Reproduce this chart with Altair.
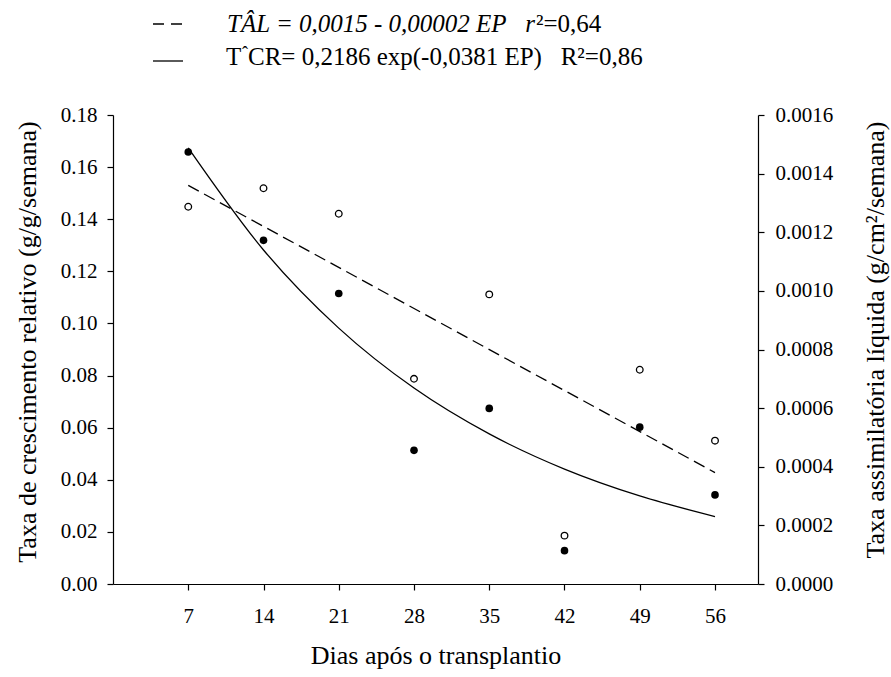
import altair as alt
import pandas as pd

# ---- data ----
dias = [7, 14, 21, 28, 35, 42, 49, 56]
tcr_obs = [0.1658, 0.1319, 0.1115, 0.0513, 0.0674, 0.0128, 0.0602, 0.0342]      # filled, left axis
tal_obs = [0.001287, 0.001350, 0.001263, 0.000700, 0.000988, 0.000165, 0.000731, 0.000489]  # open, right axis
tcr_fit = [0.1674, 0.1282, 0.0982, 0.0752, 0.0576, 0.0441, 0.0338, 0.0259]      # solid curve
tal_fit_dias = [7, 56]
tal_fit = [0.00136, 0.00038]                                                      # dashed line

left_ticks = [0.0, 0.02, 0.04, 0.06, 0.08, 0.10, 0.12, 0.14, 0.16, 0.18]
right_ticks = [0.0, 0.0002, 0.0004, 0.0006, 0.0008, 0.0010, 0.0012, 0.0014, 0.0016]

df_tcr = pd.DataFrame({"dia": dias, "v": tcr_obs})
df_tcr_fit = pd.DataFrame({"dia": dias, "v": tcr_fit})
df_tal = pd.DataFrame({"dia": dias, "v": tal_obs})
df_tal_fit = pd.DataFrame({"dia": tal_fit_dias, "v": tal_fit})

FONT = "Liberation Serif"
W, H = 645, 469
NB = "\u00a0"

x_enc = alt.X(
    "dia:Q",
    scale=alt.Scale(domain=[0, 60], nice=False, zero=False),
    axis=alt.Axis(
        values=dias, title="Dias após o transplantio", tickSize=6,
        labelPadding=32, labelBaseline="alphabetic",
        titleY=79, titleBaseline="alphabetic", titleX=W / 2,
    ),
)

y_left_scale = alt.Scale(domain=[0, 0.18], nice=False)
y_left_axis = alt.Axis(
    orient="left", values=left_ticks, format=".2f", tickSize=6, labelPadding=10,
    title="Taxa de crescimento relativo (g/g/semana)",
    titleAngle=-90, titleX=-86, titleY=H / 2 - 8, titleAlign="center", titleBaseline="middle",
)
y_right_scale = alt.Scale(domain=[0, 0.0016], nice=False)
y_right_axis = alt.Axis(
    orient="right", values=right_ticks, format=".4f", tickSize=6, labelPadding=11,
    title="Taxa assimilatória líquida (g/cm²/semana)",
    titleAngle=-90, titleX=117, titleY=H / 2 - 10, titleAlign="center", titleBaseline="middle",
)

tcr_curve = alt.Chart(df_tcr_fit).mark_line(
    color="black", strokeWidth=1.3, interpolate="monotone"
).encode(x=x_enc, y=alt.Y("v:Q", scale=y_left_scale, axis=y_left_axis))
tcr_pts = alt.Chart(df_tcr).mark_point(
    filled=True, color="black", size=58, opacity=1
).encode(x=x_enc, y=alt.Y("v:Q", scale=y_left_scale, axis=y_left_axis))
left = alt.layer(tcr_curve, tcr_pts)

tal_line = alt.Chart(df_tal_fit).mark_line(
    color="black", strokeWidth=1.3, strokeDash=[12, 6]
).encode(x=x_enc, y=alt.Y("v:Q", scale=y_right_scale, axis=y_right_axis))
tal_pts = alt.Chart(df_tal).mark_point(
    filled=False, color="black", size=44, strokeWidth=1.3, opacity=1
).encode(x=x_enc, y=alt.Y("v:Q", scale=y_right_scale, axis=y_right_axis))
right = alt.layer(tal_line, tal_pts)

one = alt.Data(values=[{}])
leg_dash = alt.Chart(one).mark_rule(color="black", strokeWidth=1.3, strokeDash=[11, 7]).encode(
    x=alt.value(40), x2=alt.value(70), y=alt.value(-91))
leg_solid = alt.Chart(one).mark_rule(color="black", strokeWidth=1.3).encode(
    x=alt.value(40), x2=alt.value(70), y=alt.value(-54))

def txt(s, x, y, italic=False, size=25):
    return alt.Chart(one).mark_text(
        text=s, font=FONT, fontSize=size, fontStyle="italic" if italic else "normal",
        align="left", baseline="alphabetic", color="black",
    ).encode(x=alt.value(x), y=alt.value(y))

leg1a = txt("TÂL = 0,0015 - 0,00002 EP" + NB * 3 + "r", 114, -83, italic=True)
leg1b = txt("²=0,64", 423, -83)
leg2a = txt("T", 113, -50)
leg2b = txt("ˆ", 129, -56, size=18)
leg2c = txt("CR= 0,2186 exp(-0,0381 EP)" + NB * 3 + "R²=0,86", 135, -50)

chart = alt.layer(
    left, right, leg_dash, leg_solid, leg1a, leg1b, leg2a, leg2b, leg2c
).resolve_scale(y="independent").properties(
    width=W, height=H,
    autosize=alt.AutoSizeParams(type="none"),
    padding={"left": 113, "top": 115, "right": 133, "bottom": 93},
    background="white",
).configure_view(stroke=None).configure_axis(
    grid=False, labelFont=FONT, labelFontSize=21, labelColor="black",
    titleFont=FONT, titleFontSize=26, titleFontWeight="normal", titleColor="black",
    domainColor="black", domainWidth=1.2, tickColor="black", tickWidth=1.2,
)

chart.save("out.html", embed_options={"renderer": "svg", "actions": False})
